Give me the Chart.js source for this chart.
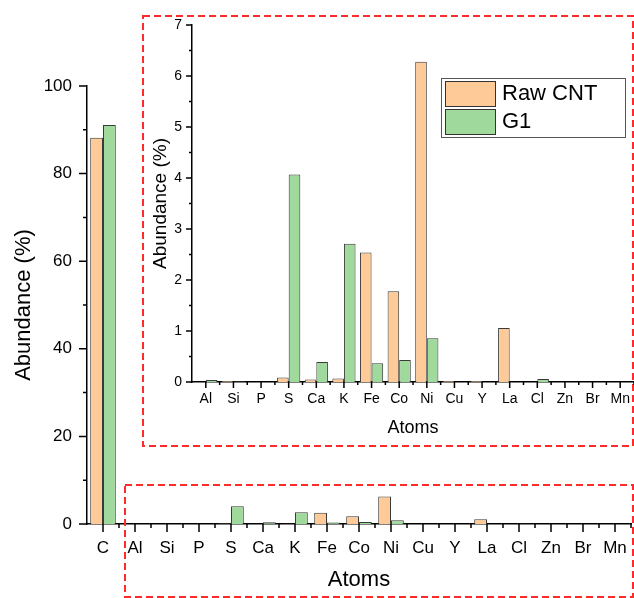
<!DOCTYPE html>
<html>
<head>
<meta charset="utf-8">
<script src="https://cdn.jsdelivr.net/npm/chart.js@4"></script>
<style>
html, body { margin: 0; padding: 0; background: #fff; }
#wrap { position: relative; width: 634px; height: 598px; }
canvas { position: absolute; left: 0; top: 0; }
</style>
</head>
<body>
<div id="wrap">
  <canvas id="mainChart" width="634" height="598"></canvas>
  <canvas id="insetChart" width="634" height="598"></canvas>
</div>
<script>
'use strict';
// atoms on the x axis, C only on the big chart
var atoms = ['C', 'Al', 'Si', 'P', 'S', 'Ca', 'K', 'Fe', 'Co', 'Ni', 'Cu', 'Y', 'La', 'Cl', 'Zn', 'Br', 'Mn'];
// abundance (%) per atom
var rawCnt = [88.2, 0, 0.02, 0, 0.09, 0.05, 0.07, 2.54, 1.78, 6.28, 0.02, 0.02, 1.06, 0, 0, 0, 0];
var g1 = [91.1, 0.04, 0.01, 0, 4.07, 0.39, 2.71, 0.37, 0.43, 0.86, 0, 0, 0, 0.06, 0, 0, 0];
var seriesNames = ['Raw CNT', 'G1'];
var mainMax = 100;
var insetMax = 7;

var FONT = '"Liberation Sans", Arial, sans-serif';
var orange = '#fecb98';
var green = '#9fd99c';

// origin-style ticks: long at labels, short in between
var originTicks = {
  id: 'originTicks',
  afterDraw: function (chart, args, opts) {
    var ctx = chart.ctx;
    var x = chart.scales.x;
    var y = chart.scales.y;
    ctx.save();
    ctx.strokeStyle = '#000';
    ctx.lineWidth = 1.5;
    ctx.beginPath();
    for (var v = y.min; v <= y.max + 1e-9; v += opts.minorStep) {
      var py = y.getPixelForValue(v);
      var r = v / opts.majorStep;
      var len = Math.abs(r - Math.round(r)) < 1e-6 ? opts.major : opts.minor;
      ctx.moveTo(x.left - len, py);
      ctx.lineTo(x.left, py);
    }
    var half = (x.getPixelForValue(1) - x.getPixelForValue(0)) / 2;
    for (var i = 0; i < x.ticks.length; i++) {
      var px = x.getPixelForValue(i);
      ctx.moveTo(px, y.bottom);
      ctx.lineTo(px, y.bottom + opts.major);
      ctx.moveTo(px + half, y.bottom);
      ctx.lineTo(px + half, y.bottom + opts.minor);
    }
    ctx.stroke();
    ctx.restore();
  }
};

// the two red dashed frames
var dashedBoxes = {
  id: 'dashedBoxes',
  afterDraw: function (chart) {
    var ctx = chart.ctx;
    ctx.save();
    ctx.strokeStyle = '#ff2b2b';
    ctx.lineWidth = 2;
    ctx.setLineDash([7, 4]);
    ctx.strokeRect(143, 16, 490, 430);
    ctx.strokeRect(125, 485, 508, 112);
    ctx.restore();
  }
};

var legendBox = {
  id: 'legendBox',
  afterDraw: function (chart) {
    var ctx = chart.ctx;
    ctx.save();
    ctx.lineWidth = 1;
    ctx.strokeStyle = '#555';
    ctx.strokeRect(441.5, 78.5, 184, 59);
    ctx.font = '22px ' + FONT;
    ctx.textBaseline = 'middle';
    chart.data.datasets.forEach(function (ds, i) {
      var top = 81 + i * 28;
      ctx.fillStyle = ds.backgroundColor;
      ctx.fillRect(445, top, 50, 25);
      ctx.strokeStyle = '#333';
      ctx.strokeRect(445.5, top + 0.5, 50, 25);
      ctx.fillStyle = '#000';
      ctx.fillText(ds.label, 502, top + 13);
    });
    ctx.restore();
  }
};

function makeDatasets(from) {
  return [
    { label: seriesNames[0], data: rawCnt.slice(from), backgroundColor: orange, borderColor: '#3a3a3a', borderWidth: 1 },
    { label: seriesNames[1], data: g1.slice(from), backgroundColor: green, borderColor: '#3a3a3a', borderWidth: 1 }
  ];
}

new Chart(document.getElementById('mainChart'), {
  type: 'bar',
  data: { labels: atoms, datasets: makeDatasets(0) },
  options: {
    responsive: false,
    animation: false,
    devicePixelRatio: 1,
    layout: { padding: { top: 86, right: 3, left: 0, bottom: 0 } },
    datasets: { bar: { categoryPercentage: 0.8, barPercentage: 1 } },
    plugins: {
      legend: { display: false },
      tooltip: { enabled: false },
      originTicks: { majorStep: 20, minorStep: 10, major: 8, minor: 4 }
    },
    scales: {
      x: {
        grid: { display: false, drawTicks: true, tickLength: 8 },
        border: { display: true, color: '#000', width: 1.5 },
        ticks: { color: '#000', padding: 6, font: { family: FONT, size: 17 }, maxRotation: 0, autoSkip: false },
        title: { display: true, text: 'Atoms', color: '#000', font: { family: FONT, size: 22 }, padding: { top: 0, bottom: 5 } },
        afterFit: function (s) { s.height = 74; }
      },
      y: {
        min: 0,
        max: mainMax,
        grid: { display: false, drawTicks: true, tickLength: 8 },
        border: { display: true, color: '#000', width: 1.5 },
        ticks: { stepSize: 20, color: '#000', padding: 7, font: { family: FONT, size: 17 } },
        title: { display: true, text: 'Abundance (%)', color: '#000', font: { family: FONT, size: 22 }, padding: { top: 11, bottom: 0 } },
        afterFit: function (s) { s.width = 87; }
      }
    }
  },
  plugins: [originTicks, dashedBoxes]
});

new Chart(document.getElementById('insetChart'), {
  type: 'bar',
  data: { labels: atoms.slice(1), datasets: makeDatasets(1) },
  options: {
    responsive: false,
    animation: false,
    devicePixelRatio: 1,
    layout: { padding: { top: 25, right: 0, left: 143, bottom: 152 } },
    datasets: { bar: { categoryPercentage: 0.84, barPercentage: 1 } },
    plugins: {
      legend: { display: false },
      tooltip: { enabled: false },
      originTicks: { majorStep: 1, minorStep: 0.5, major: 6, minor: 3 }
    },
    scales: {
      x: {
        grid: { display: false, drawTicks: true, tickLength: 6 },
        border: { display: true, color: '#000', width: 1.5 },
        ticks: { color: '#000', padding: 3, font: { family: FONT, size: 14 }, maxRotation: 0, autoSkip: false },
        title: { display: true, text: 'Atoms', color: '#000', font: { family: FONT, size: 18 }, padding: { top: 0, bottom: 7 } },
        afterFit: function (s) { s.height = 64; }
      },
      y: {
        min: 0,
        max: insetMax,
        grid: { display: false, drawTicks: true, tickLength: 6 },
        border: { display: true, color: '#000', width: 1.5 },
        ticks: { stepSize: 1, color: '#000', padding: 4, font: { family: FONT, size: 14 } },
        title: { display: true, text: 'Abundance (%)', color: '#000', font: { family: FONT, size: 19 }, padding: { top: 6, bottom: 0 } },
        afterFit: function (s) { s.width = 49; }
      }
    }
  },
  plugins: [originTicks, legendBox]
});
</script>
</body>
</html>
